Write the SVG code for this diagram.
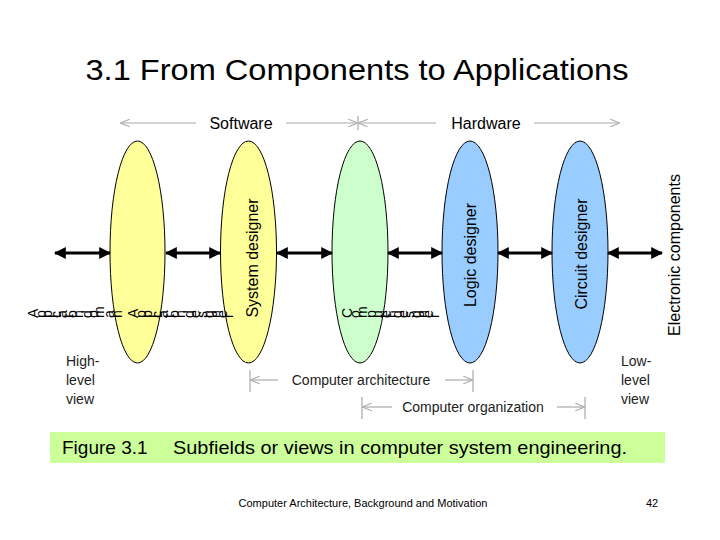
<svg xmlns="http://www.w3.org/2000/svg" width="720" height="540" viewBox="0 0 720 540">
<defs>
<marker id="ba" viewBox="0 0 10 10" refX="9" refY="5" markerWidth="4" markerHeight="4" orient="auto-start-reverse"><path d="M0,0L10,5L0,10z" fill="#000"/></marker>
<marker id="ga" viewBox="0 0 10 10" refX="9" refY="5" markerWidth="8" markerHeight="8" orient="auto-start-reverse"><path d="M0,1L10,5L0,9" fill="none" stroke="#aaa" stroke-width="1.2"/></marker>
</defs>
<style>
text{font-family:"Liberation Sans",Arial,sans-serif;fill:#000}
.el{stroke:#000;stroke-width:1}
.ba{stroke:#000;stroke-width:3;marker-start:url(#ba);marker-end:url(#ba)}
.gl{stroke:#aaa;stroke-width:1.2;fill:none}
.lb{font-size:16px}
.vl{font-size:14px;fill:#222}
</style>
<rect width="720" height="540" fill="#fff"/>
<text x="357" y="80" font-size="30" text-anchor="middle" textLength="543" lengthAdjust="spacingAndGlyphs">3.1  From Components to Applications</text>
<g id="top-labels">
<path class="gl" d="M358,116V130"/>
<path class="gl" d="M196,123H121" marker-end="url(#ga)"/>
<path class="gl" d="M286,123H357" marker-end="url(#ga)"/>
<path class="gl" d="M436,123H359" marker-end="url(#ga)"/>
<path class="gl" d="M534,123H619" marker-end="url(#ga)"/>
<text x="241" y="129" class="lb" text-anchor="middle">Software</text>
<text x="486" y="129" class="lb" text-anchor="middle">Hardware</text>
</g>
<g id="e1"><ellipse class="el" cx="137.5" cy="252" rx="27.5" ry="111" fill="#ffff99"/></g>
<g id="e2"><ellipse class="el" cx="248.5" cy="252" rx="28" ry="111" fill="#ffff99"/><text transform="translate(258,258) rotate(-90)" class="lb" text-anchor="middle">System designer</text></g>
<g id="e3"><ellipse class="el" cx="360" cy="252" rx="28" ry="111" fill="#ccffcc"/></g>
<g id="e4"><ellipse class="el" cx="470" cy="252" rx="28" ry="111" fill="#99ccff"/><text transform="translate(476,255) rotate(-90)" class="lb" text-anchor="middle">Logic designer</text></g>
<g id="e5"><ellipse class="el" cx="580" cy="252" rx="28" ry="111" fill="#99ccff"/><text transform="translate(587,254) rotate(-90)" class="lb" text-anchor="middle">Circuit designer</text></g>
<g id="garbled" font-size="14">
<text x="38" y="318" rotate="-90" textLength="92" lengthAdjust="spacing">Application domain</text>
<text x="138" y="318" rotate="-90" textLength="100" lengthAdjust="spacing">Application designer</text>
<text x="352" y="318" rotate="-90" textLength="92" lengthAdjust="spacing">Computer designer</text>
</g>
<text transform="translate(680,255) rotate(-90)" class="lb" text-anchor="middle">Electronic components</text>
<g id="connectors">
<line class="ba" x1="55" y1="253" x2="110" y2="253"/>
<line class="ba" x1="166" y1="253" x2="220" y2="253"/>
<line class="ba" x1="277" y1="253" x2="332" y2="253"/>
<line class="ba" x1="388" y1="253" x2="442" y2="253"/>
<line class="ba" x1="498" y1="253" x2="552" y2="253"/>
<line class="ba" x1="608" y1="253" x2="662" y2="253"/>
</g>
<g id="views">
<text x="66" y="366" class="vl">High-</text><text x="66" y="385" class="vl">level</text><text x="66" y="404" class="vl">view</text>
<text x="621" y="366" class="vl">Low-</text><text x="621" y="385" class="vl">level</text><text x="621" y="404" class="vl">view</text>
<path class="gl" d="M250,370V392M473,370V392M362,397V419M585,397V419"/>
<path class="gl" d="M278,380H251" marker-end="url(#ga)"/>
<path class="gl" d="M445,380H472" marker-end="url(#ga)"/>
<path class="gl" d="M392,407H363" marker-end="url(#ga)"/>
<path class="gl" d="M557,407H584" marker-end="url(#ga)"/>
<text x="361" y="385" class="vl" text-anchor="middle">Computer architecture</text>
<text x="473" y="412" class="vl" text-anchor="middle">Computer organization</text>
</g>
<rect x="50" y="432" width="615" height="31" fill="#ccff99"/>
<text x="62" y="454" font-size="19">Figure 3.1</text>
<text x="173" y="454" font-size="19" textLength="454" lengthAdjust="spacingAndGlyphs">Subfields or views in computer system engineering.</text>
<text x="363" y="507" font-size="11" text-anchor="middle">Computer Architecture, Background and Motivation</text>
<text x="652" y="507" font-size="11" text-anchor="middle">42</text>
</svg>
